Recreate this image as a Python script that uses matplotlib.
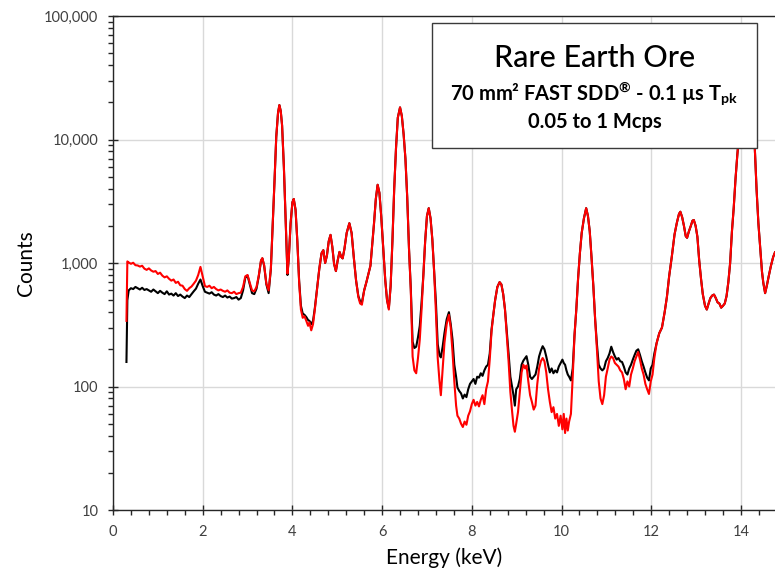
import matplotlib
matplotlib.use("Agg")
import matplotlib.pyplot as plt
from matplotlib.ticker import MultipleLocator, LogLocator, FuncFormatter, NullFormatter
from matplotlib.patches import Rectangle

plt.rcParams["font.family"] = ["Lato", "DejaVu Sans"]
plt.rcParams["mathtext.fontset"] = "custom"
plt.rcParams["mathtext.rm"] = "Lato:bold"
plt.rcParams["mathtext.bf"] = "Lato:bold"
plt.rcParams["mathtext.it"] = "Lato:bold"

# Energy channels (keV)
energy = [
    0.30, 0.32, 0.35, 0.40, 0.45, 0.50, 0.55, 0.60, 0.65, 0.70,
    0.75, 0.80, 0.85, 0.90, 0.95, 1.00, 1.05, 1.10, 1.15, 1.20,
    1.25, 1.30, 1.35, 1.40, 1.45, 1.50, 1.55, 1.60, 1.65, 1.70,
    1.75, 1.80, 1.85, 1.90, 1.95, 2.00, 2.05, 2.10, 2.15, 2.20,
    2.25, 2.30, 2.35, 2.40, 2.45, 2.50, 2.55, 2.60, 2.65, 2.70,
    2.75, 2.80, 2.85, 2.90, 2.95, 3.00, 3.05, 3.10, 3.15, 3.20,
    3.25, 3.30, 3.33, 3.37, 3.42, 3.47, 3.52, 3.56, 3.60, 3.64,
    3.68, 3.71, 3.74, 3.77, 3.81, 3.85, 3.89, 3.92, 3.96, 4.00,
    4.03, 4.07, 4.11, 4.15, 4.19, 4.23, 4.27, 4.31, 4.35, 4.38,
    4.42, 4.46, 4.50, 4.55, 4.60, 4.65, 4.69, 4.73, 4.77, 4.81,
    4.85, 4.89, 4.93, 4.97, 5.01, 5.05, 5.09, 5.12, 5.16, 5.21,
    5.27, 5.32, 5.37, 5.42, 5.47, 5.51, 5.55, 5.60, 5.65, 5.70,
    5.74, 5.78, 5.82, 5.86, 5.90, 5.94, 5.98, 6.03, 6.07, 6.11,
    6.15, 6.19, 6.23, 6.27, 6.31, 6.35, 6.40, 6.44, 6.48, 6.52,
    6.56, 6.60, 6.64, 6.68, 6.72, 6.76, 6.80, 6.84, 6.88, 6.92,
    6.96, 7.00, 7.04, 7.08, 7.12, 7.16, 7.20, 7.24, 7.28, 7.31,
    7.35, 7.39, 7.44, 7.49, 7.53, 7.57, 7.61, 7.65, 7.68, 7.72,
    7.76, 7.80, 7.84, 7.88, 7.92, 7.96, 8.00, 8.04, 8.08, 8.12,
    8.16, 8.20, 8.24, 8.28, 8.32, 8.36, 8.40, 8.44, 8.48, 8.52,
    8.57, 8.62, 8.66, 8.70, 8.74, 8.78, 8.82, 8.86, 8.90, 8.93,
    8.96, 8.99, 9.03, 9.07, 9.11, 9.15, 9.19, 9.22, 9.26, 9.30,
    9.34, 9.38, 9.42, 9.46, 9.50, 9.54, 9.58, 9.62, 9.66, 9.70,
    9.74, 9.78, 9.82, 9.86, 9.90, 9.94, 9.98, 10.02, 10.05, 10.08,
    10.11, 10.14, 10.17, 10.21, 10.25, 10.29, 10.33, 10.37, 10.41, 10.45,
    10.50, 10.55, 10.59, 10.63, 10.67, 10.71, 10.75, 10.79, 10.83, 10.87,
    10.91, 10.95, 10.99, 11.03, 11.07, 11.11, 11.15, 11.19, 11.23, 11.27,
    11.31, 11.35, 11.39, 11.43, 11.47, 11.51, 11.55, 11.59, 11.63, 11.67,
    11.71, 11.75, 11.79, 11.83, 11.87, 11.91, 11.95, 11.99, 12.03, 12.07,
    12.12, 12.18, 12.24, 12.30, 12.35, 12.40, 12.46, 12.52, 12.57, 12.62,
    12.65, 12.69, 12.73, 12.77, 12.80, 12.84, 12.88, 12.92, 12.95, 12.99,
    13.03, 13.07, 13.11, 13.15, 13.20, 13.24, 13.28, 13.32, 13.36, 13.40,
    13.44, 13.48, 13.52, 13.56, 13.60, 13.64, 13.68, 13.72, 13.76, 13.80,
    13.84, 13.88, 13.92, 13.96, 14.00, 14.05, 14.10, 14.14, 14.18, 14.22,
    14.26, 14.31, 14.35, 14.39, 14.43, 14.47, 14.50, 14.54, 14.58, 14.62,
    14.67, 14.72, 14.76,
]

# Counts at 1 Mcps input rate
counts_1mcps = [
    340, 1030, 1010, 985, 1005, 960, 955, 935, 950, 900,
    880, 905, 870, 850, 860, 815, 835, 790, 765, 780,
    745, 720, 735, 690, 705, 660, 655, 615, 595, 625,
    645, 680, 720, 800, 930, 780, 650, 640, 655, 625,
    640, 615, 600, 610, 595, 585, 600, 575, 570, 585,
    560, 570, 575, 640, 780, 800, 690, 600, 590, 640,
    790, 1050, 1095, 960, 680, 600, 900, 2000, 4500, 10500,
    16500, 19000, 17000, 13000, 6000, 2200, 820, 1100, 2100, 3100,
    3300, 2700, 1500, 700, 420, 360, 370, 340, 310, 330,
    285, 320, 420, 620, 900, 1200, 1270, 1000, 1150, 1500,
    1690, 1350, 980, 860, 1050, 1230, 1120, 1090, 1300, 1750,
    2100, 1750, 1100, 720, 530, 470, 460, 600, 700, 830,
    950, 1400, 2100, 3300, 4300, 3700, 2400, 1250, 730, 500,
    420, 650, 1500, 4000, 8500, 15000, 18200, 15500, 11000, 7000,
    3400, 1300, 600, 175, 135, 128, 170, 240, 420, 800,
    1500, 2400, 2780, 2300, 1550, 850, 400, 170, 110, 85,
    140, 225, 320, 380, 300, 190, 110, 70, 58, 55,
    50, 47, 52, 49, 58, 63, 72, 78, 70, 75,
    69, 78, 85, 72, 95, 110, 165, 280, 380, 500,
    640, 700, 670, 560, 420, 260, 160, 90, 62, 48,
    43, 50, 62, 90, 130, 150, 140, 148, 110, 85,
    75, 65, 70, 105, 140, 160, 170, 160, 130, 95,
    75, 62, 68, 55, 60, 48, 58, 45, 60, 42,
    55, 44, 52, 60, 120, 260, 420, 750, 1200, 1750,
    2300, 2780, 2400, 1800, 1100, 650, 350, 200, 110, 80,
    72, 85, 120, 140, 165, 175, 170, 155, 150, 145,
    135, 130, 115, 95, 110, 100, 125, 140, 160, 175,
    190, 165, 140, 125, 105, 95, 87, 110, 125, 170,
    224, 270, 300, 400, 530, 780, 1130, 1700, 2100, 2500,
    2600, 2350, 2000, 1650, 1600, 1800, 1980, 2200, 2230, 2000,
    1630, 1050, 750, 560, 450, 420, 470, 520, 545, 555,
    520, 480, 470, 435, 450, 470, 540, 700, 1000, 1800,
    2800, 4800, 7500, 11000, 15000, 20000, 24000, 25000, 22000, 17000,
    12500, 8500, 3900, 2100, 1330, 850, 690, 570, 660, 780,
    950, 1120, 1220,
]

# Counts at 0.05 Mcps input rate
counts_005mcps = [
    158, 500, 600, 625, 615, 640, 625, 610, 630, 605,
    615, 600, 585, 610, 590, 570, 595, 575, 560, 590,
    555, 565, 545, 570, 540, 555, 535, 520, 545, 530,
    560, 590, 620, 680, 735, 650, 585, 575, 565, 580,
    555, 545, 560, 540, 530, 545, 525, 535, 515, 520,
    530, 505, 520, 600, 760, 790, 670, 570, 560, 620,
    780, 1040, 1090, 950, 670, 570, 900, 2000, 4500, 10500,
    16500, 19000, 17000, 13000, 6000, 2200, 800, 1100, 2100, 3100,
    3300, 2700, 1500, 720, 450, 390, 380, 365, 345, 340,
    320, 340, 430, 620, 900, 1200, 1270, 1000, 1150, 1500,
    1690, 1350, 980, 860, 1050, 1230, 1120, 1090, 1300, 1750,
    2100, 1750, 1100, 720, 540, 490, 480, 600, 700, 830,
    950, 1400, 2100, 3300, 4300, 3700, 2400, 1250, 730, 500,
    430, 650, 1500, 4000, 8500, 15000, 18200, 15500, 11000, 7000,
    3400, 1300, 620, 230, 205, 210, 250, 310, 480, 800,
    1500, 2400, 2780, 2300, 1550, 850, 480, 220, 180, 172,
    210, 270, 350, 400, 320, 240, 150, 120, 98, 92,
    88, 80, 86, 82, 95, 105, 110, 115, 105, 120,
    118, 128, 122, 135, 145, 150, 185, 290, 380, 500,
    640, 700, 670, 560, 420, 280, 185, 120, 98, 85,
    70, 95, 100, 115, 150, 162, 170, 176, 150, 120,
    115, 120, 125, 145, 175, 195, 212, 200, 175, 150,
    130, 140, 128, 135, 130, 145, 155, 165, 155, 150,
    135, 125, 120, 112, 140, 260, 420, 750, 1200, 1750,
    2300, 2780, 2400, 1800, 1100, 650, 350, 220, 150, 140,
    135, 140, 160, 170, 185, 210, 190, 175, 165, 170,
    160, 158, 145, 130, 125, 140, 150, 165, 180, 195,
    200, 180, 160, 145, 130, 118, 112, 140, 150, 185,
    224, 270, 300, 400, 530, 780, 1130, 1700, 2100, 2500,
    2600, 2350, 2000, 1650, 1600, 1800, 1980, 2200, 2230, 2000,
    1630, 1050, 750, 560, 450, 420, 470, 520, 545, 555,
    520, 480, 470, 435, 450, 470, 540, 700, 1000, 1800,
    2800, 4800, 7500, 11000, 15000, 20000, 24000, 25000, 22000, 17000,
    12500, 8500, 3900, 2100, 1330, 850, 690, 570, 660, 780,
    950, 1120, 1220,
]

y_ticks = [10, 100, 1000, 10000, 100000]

title_lines = [
    "Rare Earth Ore",
    r"70 mm² FAST SDD$^{\mathrm{®}}$ - 0.1 µs T$_{\mathrm{pk}}$",
    "0.05 to 1 Mcps",
]

W, H = 775, 571
fig = plt.figure(figsize=(W / 100, H / 100), dpi=100)
ax = fig.add_axes([113 / W, 61 / H, (W - 113) / W, (510 - 16) / H])

ax.plot(energy, counts_005mcps, color="black", lw=1.5, zorder=3)
ax.plot(energy, counts_1mcps, color="#ff0000", lw=1.5, zorder=4)

ax.set_yscale("log")
ax.set_ylim(10, 100000)
ax.set_xlim(0, (W - 113) / 44.85)

ax.xaxis.set_major_locator(MultipleLocator(2))
ax.xaxis.set_minor_locator(MultipleLocator(0.4))
ax.set_yticks(y_ticks)
ax.yaxis.set_minor_locator(LogLocator(base=10, subs=range(2, 10)))
ax.yaxis.set_minor_formatter(NullFormatter())
ax.yaxis.set_major_formatter(FuncFormatter(lambda v, p: f"{int(round(v)):,}"))
ax.xaxis.set_major_formatter(FuncFormatter(lambda v, p: f"{int(round(v))}"))

tick_col = "#404040"
ax.tick_params(which="major", direction="inout", length=7, width=1,
               colors="#262626", labelcolor=tick_col, labelsize=10.5, pad=7)
ax.tick_params(which="minor", direction="out", length=3.5, width=1, colors="#262626")

ax.grid(True, which="major", color="#d9d9d9", lw=1)
ax.set_axisbelow(True)

for side in ("left", "bottom", "top"):
    ax.spines[side].set_color("#262626")
    ax.spines[side].set_linewidth(1)
ax.spines["right"].set_visible(False)

ax.set_xlabel("Energy (keV)", fontsize=15, color="black")
ax.set_ylabel("Counts", fontsize=15, color="black")
ax.xaxis.set_label_coords(0.5, -0.076)
ax.yaxis.set_label_coords(-0.117, 0.5)

# Annotation box
box = Rectangle((432 / W, 1 - 148 / H), (757 - 432) / W, (148 - 23) / H,
                transform=fig.transFigure, facecolor="white",
                edgecolor="#3a3a3a", lw=1, zorder=10)
fig.add_artist(box)
cx = (432 + 757) / 2 / W
fig.text(cx, 1 - 67 / H, title_lines[0], ha="center", va="baseline",
         fontsize=22, fontweight="medium", zorder=11)
fig.text(cx, 1 - 100 / H, title_lines[1], ha="center", va="baseline",
         fontsize=14.5, fontweight="bold", zorder=11)
fig.text(cx, 1 - 128 / H, title_lines[2], ha="center", va="baseline",
         fontsize=14.5, fontweight="bold", zorder=11)

fig.savefig("out.png", dpi=100)
